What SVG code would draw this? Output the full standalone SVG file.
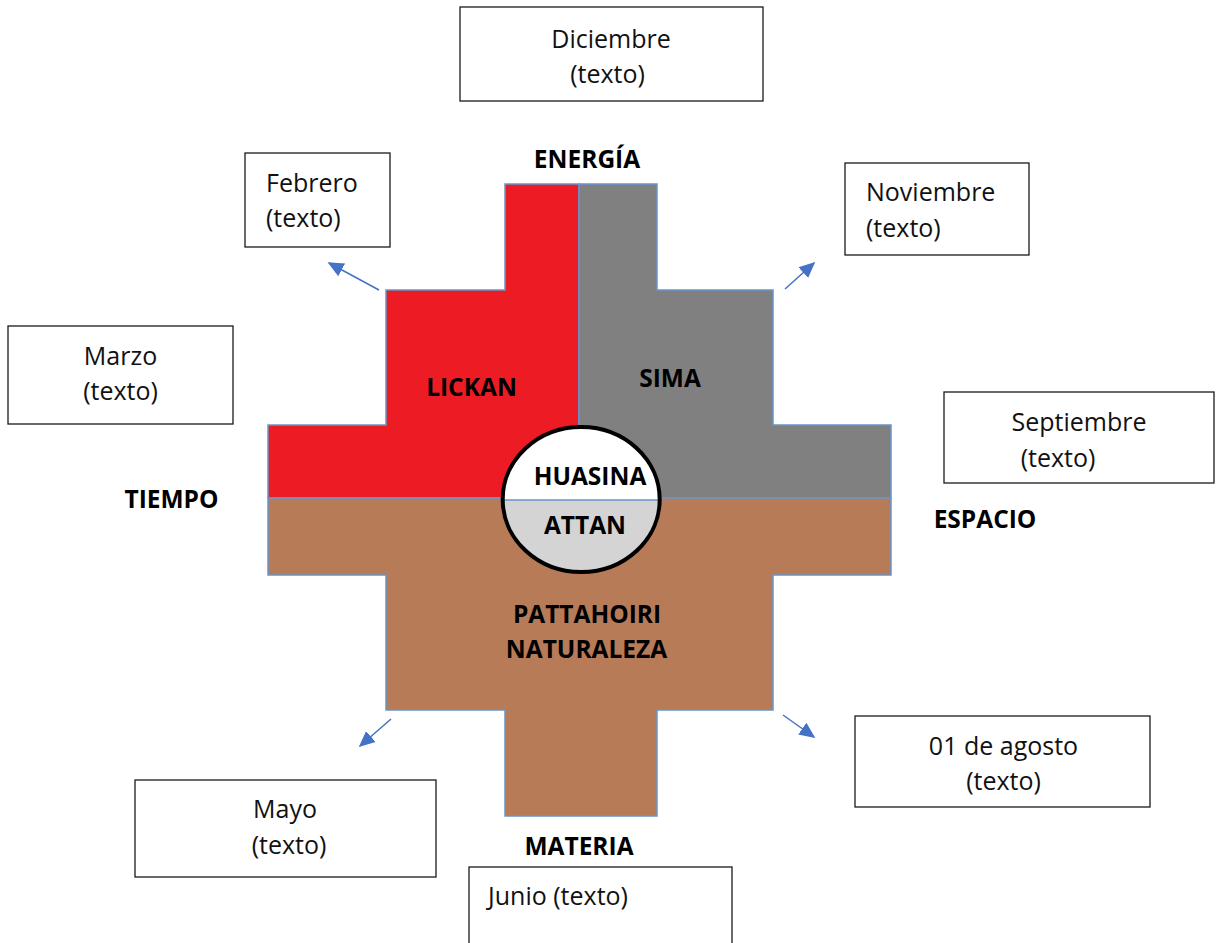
<svg xmlns="http://www.w3.org/2000/svg" width="1229" height="943" viewBox="0 0 1229 943">
<style>
.box{fill:#fff;stroke:#1a1a1a;stroke-width:1.3}
.t{font-family:"Open Sans","Liberation Sans",sans-serif;font-size:25px;fill:#111}
.b{font-family:"Open Sans","Liberation Sans",sans-serif;font-size:24.5px;font-weight:bold;fill:#000}
.m{text-anchor:middle}
.part{stroke:#6A95C8;stroke-width:1.5;stroke-linejoin:miter}
.arr{stroke:#4472C4;stroke-width:1.5;fill:none;marker-end:url(#ah)}
</style>
<defs>
<marker id="ah" viewBox="0 0 10 10" refX="9" refY="5" markerWidth="16" markerHeight="16" markerUnits="userSpaceOnUse" orient="auto">
<path d="M0,0.5 L10,5 L0,9.5 z" fill="#4472C4"/>
</marker>
</defs>
<rect width="1229" height="943" fill="#fff"/>

<g id="chakana">
<g id="lickan">
<polygon class="part" fill="#ED1C24" points="505,184 579,184 579,498 268,498 268,425 386,425 386,290 505,290"/>
<text class="b m" x="471.5" y="396">LICKAN</text>
</g>
<g id="sima">
<polygon class="part" fill="#808080" points="579,184 657,184 657,290 773,290 773,425 891,425 891,498 579,498"/>
<text class="b m" x="670" y="387">SIMA</text>
</g>
<g id="pattahoiri">
<polygon class="part" fill="#B77B57" points="268,498 891,498 891,575 773,575 773,710 657,710 657,816 505,816 505,710 386,710 386,575 268,575"/>
<text class="b m" x="587" y="623">PATTAHOIRI</text>
<text class="b m" x="586.5" y="658">NATURALEZA</text>
</g>
<g id="centro">
<path d="M502.7,500 A78.5,72.5 0 0 1 659.7,500 Z" fill="#fff"/>
<path d="M502.7,500 A78.5,72.5 0 0 0 659.7,500 Z" fill="#D4D4D4"/>
<line x1="503" y1="500" x2="659" y2="500" stroke="#6A95C8" stroke-width="1.5"/>
<ellipse cx="581.2" cy="499.5" rx="78.5" ry="72.5" fill="none" stroke="#000" stroke-width="4"/>
<text class="b m" x="590" y="485">HUASINA</text>
<text class="b m" x="585" y="534">ATTAN</text>
</g>
</g>

<g id="labels">
<text class="b m" x="587" y="168">ENERGÍA</text>
<text class="b m" x="171.5" y="508">TIEMPO</text>
<text class="b m" x="985" y="528">ESPACIO</text>
<text class="b m" x="579" y="855">MATERIA</text>
</g>

<g id="connectors">
<line class="arr" x1="379" y1="290" x2="329" y2="263"/>
<line class="arr" x1="785" y1="289" x2="814" y2="263"/>
<line class="arr" x1="391" y1="719" x2="360" y2="746"/>
<line class="arr" x1="783" y1="715" x2="814" y2="737"/>
</g>

<g id="diciembre">
<rect class="box" x="460" y="7" width="303" height="94"/>
<text class="t m" x="611" y="48">Diciembre</text>
<text class="t m" x="607.5" y="83">(texto)</text>
</g>
<g id="febrero">
<rect class="box" x="245" y="153" width="145" height="94"/>
<text class="t" x="266" y="192">Febrero</text>
<text class="t" x="266" y="227">(texto)</text>
</g>
<g id="noviembre">
<rect class="box" x="845" y="163" width="184" height="92"/>
<text class="t" x="866" y="201">Noviembre</text>
<text class="t" x="866" y="237">(texto)</text>
</g>
<g id="marzo">
<rect class="box" x="8" y="326" width="225" height="98"/>
<text class="t m" x="120.5" y="365">Marzo</text>
<text class="t m" x="120.5" y="400">(texto)</text>
</g>
<g id="septiembre">
<rect class="box" x="944" y="392" width="270" height="91"/>
<text class="t m" x="1079" y="431">Septiembre</text>
<text class="t m" x="1058" y="467">(texto)</text>
</g>
<g id="agosto">
<rect class="box" x="855" y="716" width="295" height="91"/>
<text class="t m" x="1003.5" y="755">01 de agosto</text>
<text class="t m" x="1003.5" y="790">(texto)</text>
</g>
<g id="mayo">
<rect class="box" x="135" y="780" width="301" height="97"/>
<text class="t m" x="285" y="818">Mayo</text>
<text class="t m" x="289" y="854">(texto)</text>
</g>
<g id="junio">
<rect class="box" x="469" y="867" width="263" height="90"/>
<text class="t" x="488" y="905">Junio (texto)</text>
</g>
</svg>
